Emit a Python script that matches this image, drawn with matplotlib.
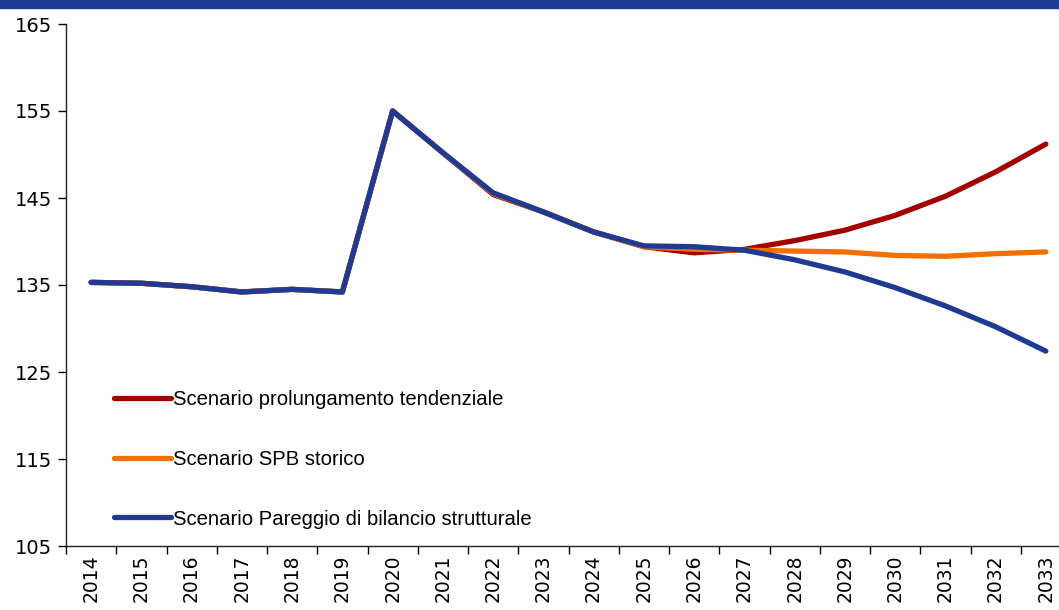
import matplotlib
matplotlib.use("Agg")
import matplotlib.pyplot as plt
from matplotlib.patches import Rectangle

years = [str(y) for y in range(2014, 2034)]

# debito/PIL nei tre scenari
tendenziale = [135.3, 135.2, 134.8, 134.2, 134.5, 134.2, 155.0, 150.2, 145.4, 143.4,
               141.1, 139.4, 138.7, 139.1, 140.1, 141.3, 143.0, 145.2, 148.0, 151.2]
spb_storico = [135.3, 135.2, 134.8, 134.2, 134.5, 134.2, 155.0, 150.2, 145.5, 143.4,
               141.1, 139.4, 139.1, 139.0, 138.9, 138.8, 138.4, 138.3, 138.6, 138.8]
pareggio = [135.3, 135.2, 134.8, 134.2, 134.5, 134.2, 155.0, 150.2, 145.6, 143.4,
            141.1, 139.5, 139.4, 139.0, 137.9, 136.5, 134.7, 132.6, 130.2, 127.4]

labels = ["Scenario prolungamento tendenziale",
          "Scenario SPB storico",
          "Scenario Pareggio di bilancio strutturale"]
colors = ["#A50000", "#F07000", "#1F3A93"]
yticks = [105, 115, 125, 135, 145, 155, 165]

fig = plt.figure(figsize=(10.59, 6.10), dpi=100)
ax = fig.add_axes([66 / 1059, 64 / 610, 1005 / 1059, 522 / 610])

# banda blu in alto
fig.patches.append(Rectangle((0, 1 - 8 / 610), 1, 8 / 610, transform=fig.transFigure,
                             color="#1F3A93", zorder=0))

x = list(range(len(years)))
for series, lab, col in zip([tendenziale, spb_storico, pareggio], labels, colors):
    ax.plot(x, series, color=col, lw=3.8, label=lab,
            solid_capstyle="round", solid_joinstyle="round")

ax.set_xlim(-0.5, len(years) - 0.5)
ax.set_ylim(105, 165)
ax.set_yticks(yticks)
ax.set_yticklabels([str(v) for v in yticks], fontsize=14, family="DejaVu Sans")

# categorie: etichette al centro, tacche sui bordi
ax.set_xticks(x)
ax.set_xticklabels(years, rotation=90, fontsize=13.5, family="DejaVu Sans")
ax.tick_params(axis="x", length=0, pad=6)
ax.set_xticks([i - 0.5 for i in range(len(years) + 1)], minor=True)
ax.tick_params(axis="x", which="minor", length=6, width=1, direction="out")
ax.tick_params(axis="y", length=6, width=1, direction="out", pad=4)

for side in ["top", "right"]:
    ax.spines[side].set_visible(False)
for side in ["left", "bottom"]:
    ax.spines[side].set_linewidth(1)
    ax.spines[side].set_color("#222222")

leg = ax.legend(loc="upper left", bbox_to_anchor=(0.030, 0.333), frameon=False,
                handlelength=2.8, handletextpad=0.1, labelspacing=2.0,
                prop={"family": "Liberation Sans", "size": 14.6})

fig.savefig("out.png", dpi=100)
